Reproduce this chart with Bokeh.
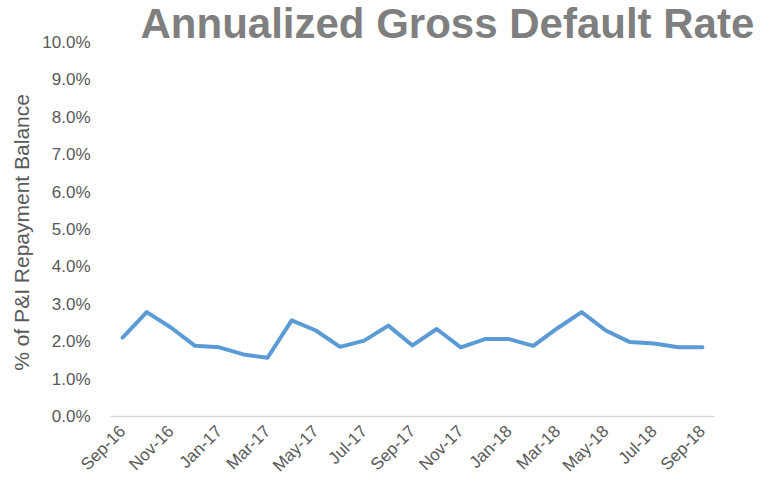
from bokeh.plotting import figure
from bokeh.models import Range1d, FixedTicker
from bokeh.embed import file_html
from bokeh.resources import INLINE

months = ["Sep-16", "Oct-16", "Nov-16", "Dec-16", "Jan-17", "Feb-17", "Mar-17",
          "Apr-17", "May-17", "Jun-17", "Jul-17", "Aug-17", "Sep-17", "Oct-17",
          "Nov-17", "Dec-17", "Jan-18", "Feb-18", "Mar-18", "Apr-18", "May-18",
          "Jun-18", "Jul-18", "Aug-18", "Sep-18"]
default_rate = [2.11, 2.79, 2.38, 1.89, 1.85, 1.66, 1.57, 2.57, 2.30, 1.86,
                2.03, 2.43, 1.90, 2.34, 1.85, 2.07, 2.07, 1.89, 2.36, 2.79,
                2.30, 1.99, 1.95, 1.85, 1.85]
y_ticks = [0, 1, 2, 3, 4, 5, 6, 7, 8, 9, 10]
title_text = "Annualized Gross Default Rate"
y_label = "% of P&I Repayment  Balance"

xs = list(range(len(months)))

font = "Liberation Sans"
tick_color = "#595959"

p = figure(width=765, height=485, output_backend="svg", toolbar_location=None,
           x_range=Range1d(-0.5, len(months) - 0.5), y_range=Range1d(0, 10),
           min_border_left=110, min_border_right=51, min_border_top=42,
           min_border_bottom=68)
p.outline_line_color = None
p.background_fill_color = "white"
p.border_fill_color = "white"

p.title.text = title_text
p.title.align = "left"
p.title.offset = 30
p.title.standoff = -9
p.title.text_font = font
p.title.text_font_size = "42px"
p.title.text_font_style = "bold"
p.title.text_color = "#7F7F7F"

p.line(xs, default_rate, line_color="#5B9BD5", line_width=4,
       line_join="round", line_cap="round")

# x axis
p.xaxis.ticker = FixedTicker(ticks=xs[::2])
p.xaxis.major_label_overrides = {i: months[i] for i in xs[::2]}
p.xaxis.major_label_orientation = 0.785398
p.xaxis.axis_line_color = "#D9D9D9"
p.xaxis.axis_line_width = 1.5
p.xaxis.major_tick_line_color = None
p.xaxis.minor_tick_line_color = None
p.xaxis.major_label_text_font = font
p.xaxis.major_label_text_font_size = "17px"
p.xaxis.major_label_text_color = tick_color
p.xaxis.major_label_standoff = 6

# y axis
p.yaxis.ticker = FixedTicker(ticks=y_ticks)
p.yaxis.major_label_overrides = {t: f"{t:.1f}%" for t in y_ticks}
p.yaxis.axis_line_color = None
p.yaxis.major_tick_line_color = None
p.yaxis.minor_tick_line_color = None
p.yaxis.major_label_text_font = font
p.yaxis.major_label_text_font_size = "17px"
p.yaxis.major_label_text_color = tick_color
p.yaxis.major_label_standoff = 14
p.yaxis.axis_label = y_label
p.yaxis.axis_label_text_font = font
p.yaxis.axis_label_text_font_size = "21px"
p.yaxis.axis_label_text_font_style = "normal"
p.yaxis.axis_label_text_color = tick_color
p.yaxis.axis_label_standoff = 6

p.xgrid.grid_line_color = None
p.ygrid.grid_line_color = None

open("out.html", "w").write(file_html(p, INLINE))
